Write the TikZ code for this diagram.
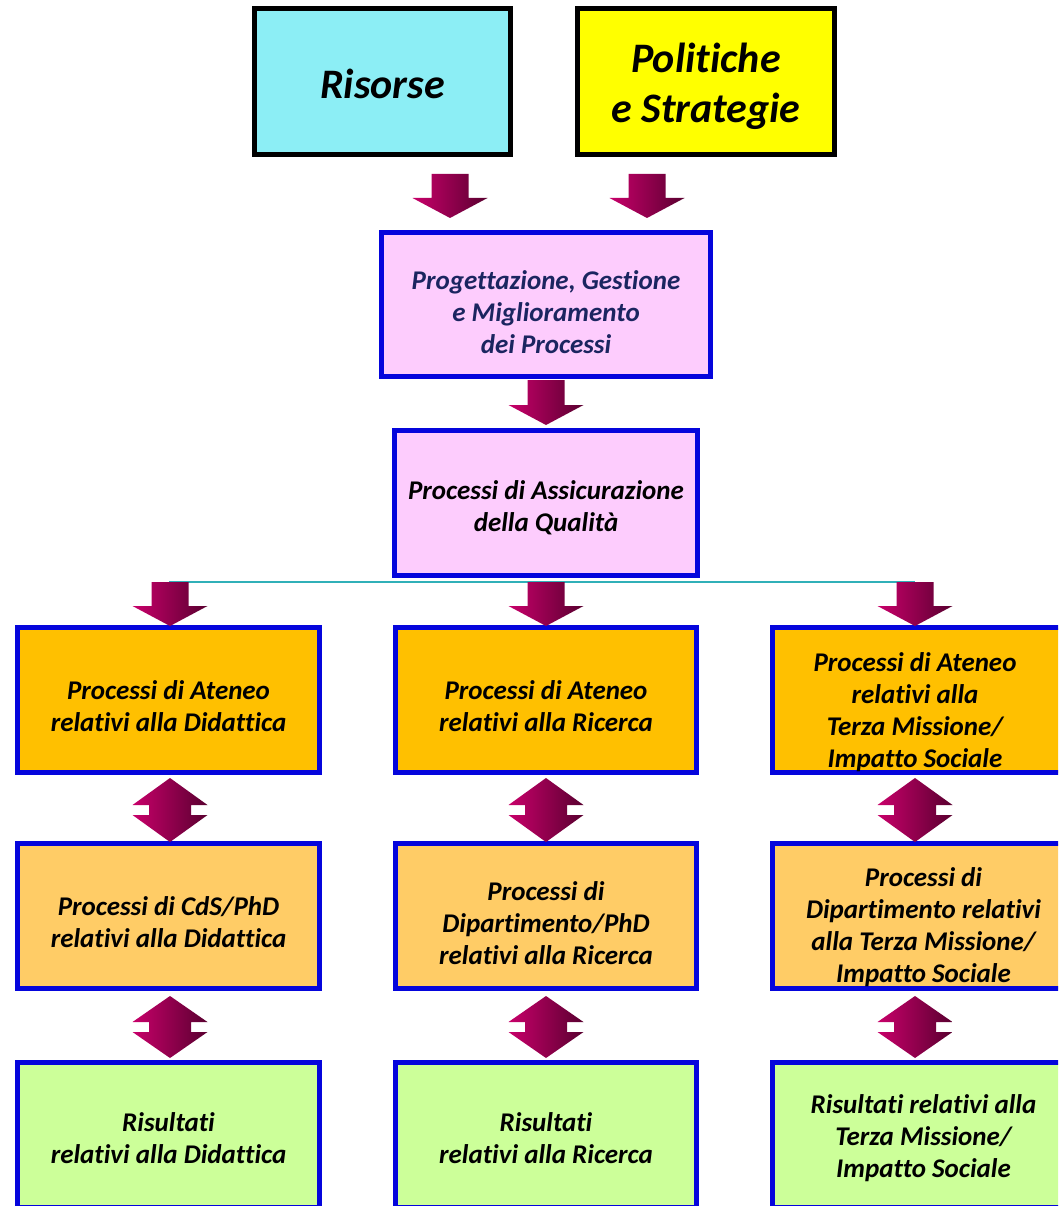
\documentclass[tikz,border=0pt]{standalone}
\usepackage{fontspec}
\setmainfont{Carlito}[Ligatures={NoCommon}]
\usetikzlibrary{calc}
\definecolor{cyanbox}{HTML}{8CEEF5}
\definecolor{yellowbox}{HTML}{FFFF00}
\definecolor{pinkbox}{HTML}{FDCCFD}
\definecolor{orangebox}{HTML}{FFC000}
\definecolor{lightorange}{HTML}{FFCC66}
\definecolor{greenbox}{HTML}{CCFF99}
\definecolor{boxblue}{HTML}{0505DC}
\definecolor{navytext}{HTML}{1B2560}
\definecolor{arrL}{HTML}{C8006A}
\definecolor{arrM}{HTML}{B2005A}
\definecolor{arrR}{HTML}{5A0030}
\definecolor{tealline}{HTML}{30B0B8}
% text block: x-adjust, lowering, lines
\newcommand\tx[3]{\hspace*{#1pt}\raisebox{-#2pt}[\height][\depth]{\begin{tabular}{@{}c@{}}#3\end{tabular}}}
\newcommand\blkdown[3]{% x, top, tip
  \path[arrowfill] (#1-18.5,#2) -- (#1+18.5,#2) -- (#1+18.5,#3-20) -- (#1+37.5,#3-20)
    -- (#1,#3) -- (#1-37.5,#3-20) -- (#1-18.5,#3-20) -- cycle;}
\newcommand\blkdouble[3]{% x, top, bottom
  \pgfmathsetmacro\hA{#2+(#3-#2-10)/2}%
  \pgfmathsetmacro\hB{\hA+10}%
  \path[arrowfill] (#1,#2) -- (#1+37.5,\hA) -- (#1+21,\hA) -- (#1+21,\hB) -- (#1+37.5,\hB)
    -- (#1,#3) -- (#1-37.5,\hB) -- (#1-21,\hB) -- (#1-21,\hA) -- (#1-37.5,\hA) -- cycle;}
\begin{document}
\begin{tikzpicture}[x=1pt,y=-1pt,
  topbox/.style={draw=black, line width=5pt, inner sep=0pt,
    minimum height=146pt, font=\fontsize{42}{50}\selectfont\bfseries\itshape},
  box/.style={draw=boxblue, line width=5pt, inner sep=0pt,
    minimum width=302pt, minimum height=145pt,
    font=\fontsize{27}{32}\selectfont\bfseries\itshape},
  arrowfill/.style={left color=arrL, middle color=arrM, right color=arrR},
  hline/.style={draw=tealline, line width=1.8pt}]
\useasboundingbox (0,0) rectangle (1058,1206);
\clip (0,0) rectangle (1058,1206);
\fill[white] (0,0) rectangle (1058,1206);

% top boxes
\node[topbox, fill=cyanbox, minimum width=256pt] (risorse) at (382.5,81.5) {\tx{0}{7}{Risorse}};
\node[topbox, fill=yellowbox, minimum width=257pt] (politiche) at (706,81.5) {\tx{0}{6}{Politiche\\e Strategie}};

% central boxes
\node[box, fill=pinkbox, text=navytext, minimum width=329pt, minimum height=144pt] (prog) at (546,304.5)
  {\tx{0}{11}{Progettazione, Gestione\\e Miglioramento\\dei Processi}};
\node[box, fill=pinkbox, minimum width=303pt] (assic) at (546,503)
  {\tx{0}{6}{Processi di Assicurazione\\della Qualità}};

% row 1
\node[box, fill=orangebox] (d1) at (168.5,700) {\tx{0}{9}{Processi di Ateneo\\relativi alla Didattica}};
\node[box, fill=orangebox, minimum width=301pt] (r1) at (546,700) {\tx{0}{9}{Processi di Ateneo\\relativi alla Ricerca}};
\node[box, fill=orangebox] (t1) at (923.5,700) {\tx{-17}{13}{Processi di Ateneo\\relativi alla\\Terza Missione/\\Impatto Sociale}};

% row 2
\node[box, fill=lightorange] (d2) at (168.5,916) {\tx{0}{9}{Processi di CdS/PhD\\relativi alla Didattica}};
\node[box, fill=lightorange, minimum width=301pt] (r2) at (546,916) {\tx{0}{10}{Processi di\\Dipartimento/PhD\\relativi alla Ricerca}};
\node[box, fill=lightorange] (t2) at (923.5,916) {\tx{0}{12}{Processi di\\Dipartimento relativi\\alla Terza Missione/\\Impatto Sociale}};

% row 3
\node[box, fill=greenbox] (d3) at (168.5,1135) {\tx{0}{6}{Risultati\\relativi alla Didattica}};
\node[box, fill=greenbox, minimum width=301pt] (r3) at (546,1135) {\tx{0}{6}{Risultati\\relativi alla Ricerca}};
\node[box, fill=greenbox] (t3) at (923.5,1135) {\tx{0}{4}{Risultati relativi alla\\Terza Missione/\\Impatto Sociale}};

% thin distribution line
\coordinate (hl) at (169,582);
\coordinate (hr) at (915,582);
\draw[hline] (hl) -- (hr);

% block arrows
\blkdown{450}{174}{218}
\blkdown{647}{174}{218}
\blkdown{546}{380}{425}
\blkdown{170}{582}{626}
\blkdown{546}{582}{626}
\blkdown{915}{582}{626}

% double arrows
\blkdouble{170}{778}{842}
\blkdouble{546}{778}{842}
\blkdouble{915}{778}{842}
\blkdouble{170}{996}{1058}
\blkdouble{546}{996}{1058}
\blkdouble{915}{996}{1058}
\end{tikzpicture}
\end{document}
